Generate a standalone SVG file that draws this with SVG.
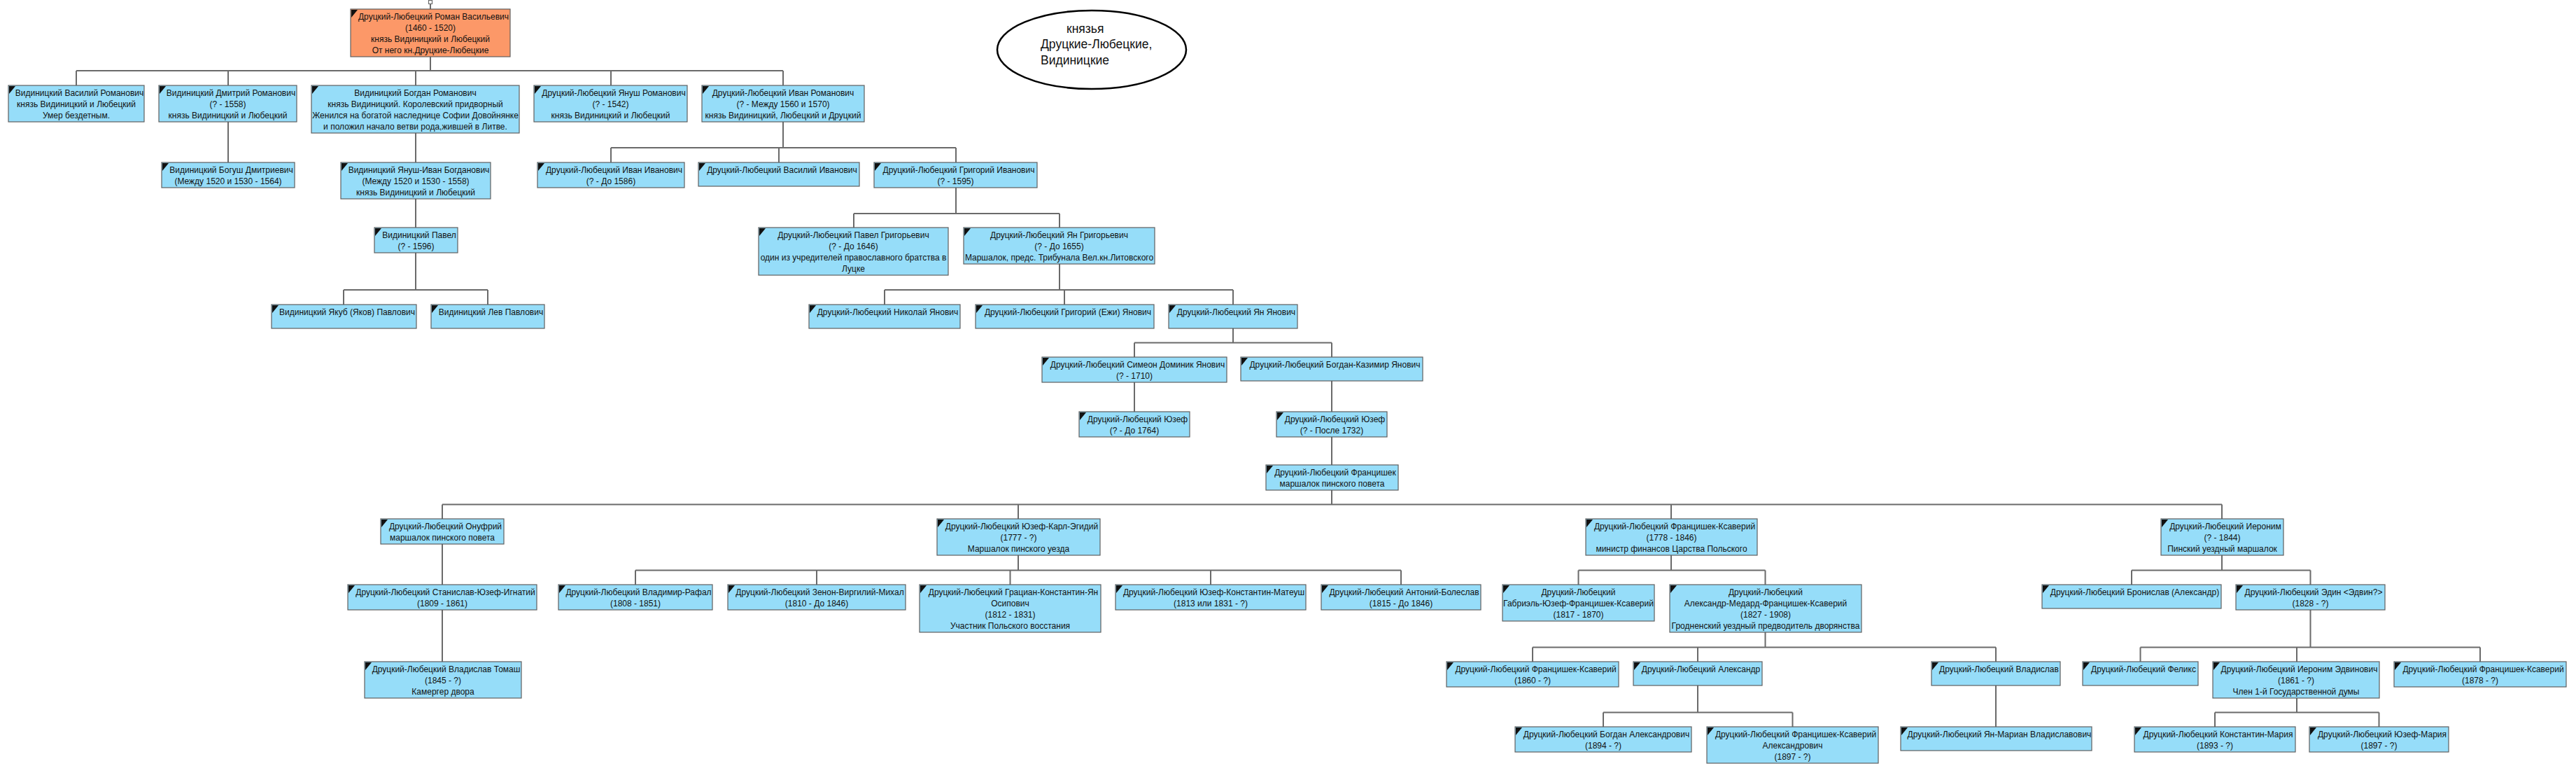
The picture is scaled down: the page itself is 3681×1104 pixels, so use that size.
<svg xmlns="http://www.w3.org/2000/svg" xmlns:xlink="http://www.w3.org/1999/xlink" width="3681" height="1104" viewBox="0 0 3681 1104">
<style>
.n{fill:#96DDF9;stroke:#5f5f5f;stroke-width:1.2}
.r{fill:#FC9868;stroke:#5f5f5f;stroke-width:1.2}
.t{font-family:"Liberation Sans",Arial,sans-serif;font-size:12px;fill:#111;text-anchor:middle}
.c{fill:none;stroke:#6a6a6a;stroke-width:2}
.e{font-family:"Liberation Sans",Arial,sans-serif;font-size:17.5px;fill:#111}
</style>
<defs>
<path id="ic" d="M1 1H10L1 12Z" fill="#111"/>
</defs>
<rect x="0" y="0" width="3681" height="1104" fill="#fff"/>

<g id="connectors">
<rect x="612.5" y="0.5" width="5" height="5" fill="#fff" stroke="#6a6a6a" stroke-width="1.2"/>
<path class="c" d="M615 5.5V13 M615 81V101 M109 101H1119 M109 101V122 M326 101V122 M594 101V122 M873 101V122 M1119 101V122
M326 174V232 M594 190V232
M1119 174V211 M873 211H1366 M873 211V232 M1113 211V232 M1366 211V232
M594 284V325
M1366 268V305 M1220 305H1514 M1220 305V325 M1514 305V325
M594 361V414 M491 414H697 M491 414V435 M697 414V435
M1514 377V414 M1264 414H1762 M1264 414V435 M1521 414V435 M1762 414V435
M1762 469V489.5 M1621 489.5H1903 M1621 489.5V510 M1903 489.5V510
M1621 546V588 M1903 544V588 M1903 624V664
M1903 700V720.5 M632 720.5H3175 M632 720.5V741 M1455 720.5V741 M2388 720.5V741 M3175 720.5V741
M632 777V835
M1455 793V814.5 M908 814.5H2002 M908 814.5V835 M1167 814.5V835 M1443.5 814.5V835 M1730 814.5V835 M2002 814.5V835
M2388 793V814.5 M2255.5 814.5H2522.5 M2255.5 814.5V835 M2522.5 814.5V835
M3175 793V814.5 M3046 814.5H3301.5 M3046 814.5V835 M3301.5 814.5V835
M632 871V945
M2522.5 903V924.5 M2190 924.5H2852 M2190 924.5V945 M2426 924.5V945 M2852 924.5V945
M3301.5 871V924.5 M3058.5 924.5H3544 M3058.5 924.5V945 M3282 924.5V945 M3544 924.5V945
M2426 979V1017.5 M2291 1017.5H2561.5 M2291 1017.5V1038 M2561.5 1017.5V1038
M2852 979V1038
M3282 997V1017.5 M3165 1017.5H3399.5 M3165 1017.5V1038 M3399.5 1017.5V1038"/>
</g>

<g id="legend">
<ellipse cx="1560" cy="71" rx="135" ry="56" fill="#fff" stroke="#000" stroke-width="2.5"/>
<text class="e" x="1524" y="47">князья</text>
<text class="e" x="1487" y="69">Друцкие-Любецкие,</text>
<text class="e" x="1487" y="92">Видиницкие</text>
</g>

<g id="r0"><rect class="r" x="501" y="13" width="228" height="68"/><use href="#ic" x="501" y="13"/>
<text class="t"><tspan x="619.5" y="28">Друцкий-Любецкий Роман Васильевич</tspan><tspan x="615" y="44">(1460 - 1520)</tspan><tspan x="615" y="60">князь Видиницкий и Любецкий</tspan><tspan x="615" y="76">От него кн.Друцкие-Любецкие</tspan></text></g>

<g id="n1"><rect class="n" x="12" y="122" width="194" height="52"/><use href="#ic" x="12" y="122"/>
<text class="t"><tspan x="113.5" y="137">Видиницкий Василий Романович</tspan><tspan x="109" y="153">князь Видиницкий и Любецкий</tspan><tspan x="109" y="169">Умер бездетным.</tspan></text></g>
<g id="n2"><rect class="n" x="227" y="122" width="197" height="52"/><use href="#ic" x="227" y="122"/>
<text class="t"><tspan x="330" y="137">Видиницкий Дмитрий Романович</tspan><tspan x="325.5" y="153">(? - 1558)</tspan><tspan x="325.5" y="169">князь Видиницкий и Любецкий</tspan></text></g>
<g id="n3"><rect class="n" x="445" y="122" width="297" height="68"/><use href="#ic" x="445" y="122"/>
<text class="t"><tspan x="593.5" y="137">Видиницкий Богдан Романович</tspan><tspan x="593.5" y="153">князь Видиницкий. Королевский придворный</tspan><tspan x="593.5" y="169">Женился на богатой наследнице Софии Довойнянке</tspan><tspan x="593.5" y="185">и положил начало ветви рода,жившей в Литве.</tspan></text></g>
<g id="n4"><rect class="n" x="763" y="122" width="219" height="52"/><use href="#ic" x="763" y="122"/>
<text class="t"><tspan x="877" y="137">Друцкий-Любецкий Януш Романович</tspan><tspan x="872.5" y="153">(? - 1542)</tspan><tspan x="872.5" y="169">князь Видиницкий и Любецкий</tspan></text></g>
<g id="n5"><rect class="n" x="1003" y="122" width="232" height="52"/><use href="#ic" x="1003" y="122"/>
<text class="t"><tspan x="1119" y="137">Друцкий-Любецкий Иван Романович</tspan><tspan x="1119" y="153">(? - Между 1560 и 1570)</tspan><tspan x="1119" y="169">князь Видиницкий, Любецкий и Друцкий</tspan></text></g>

<g id="n6"><rect class="n" x="231" y="232" width="190" height="36"/><use href="#ic" x="231" y="232"/>
<text class="t"><tspan x="330.5" y="247">Видиницкий Богуш Дмитриевич</tspan><tspan x="326" y="263">(Между 1520 и 1530 - 1564)</tspan></text></g>
<g id="n7"><rect class="n" x="487" y="232" width="214" height="52"/><use href="#ic" x="487" y="232"/>
<text class="t"><tspan x="598.5" y="247">Видиницкий Януш-Иван Богданович</tspan><tspan x="594" y="263">(Между 1520 и 1530 - 1558)</tspan><tspan x="594" y="279">князь Видиницкий и Любецкий</tspan></text></g>
<g id="n8"><rect class="n" x="768" y="232" width="210" height="36"/><use href="#ic" x="768" y="232"/>
<text class="t"><tspan x="877.5" y="247">Друцкий-Любецкий Иван Иванович</tspan><tspan x="873" y="263">(? - До 1586)</tspan></text></g>
<g id="n9"><rect class="n" x="998" y="232" width="230" height="34"/><use href="#ic" x="998" y="232"/>
<text class="t"><tspan x="1117.5" y="247">Друцкий-Любецкий Василий Иванович</tspan></text></g>
<g id="n10"><rect class="n" x="1249" y="232" width="233" height="36"/><use href="#ic" x="1249" y="232"/>
<text class="t"><tspan x="1370" y="247">Друцкий-Любецкий Григорий Иванович</tspan><tspan x="1365.5" y="263">(? - 1595)</tspan></text></g>

<g id="n11"><rect class="n" x="535" y="325" width="119" height="36"/><use href="#ic" x="535" y="325"/>
<text class="t"><tspan x="599" y="340">Видиницкий Павел</tspan><tspan x="594.5" y="356">(? - 1596)</tspan></text></g>
<g id="n12"><rect class="n" x="1084" y="325" width="271" height="68"/><use href="#ic" x="1084" y="325"/>
<text class="t"><tspan x="1219.5" y="340">Друцкий-Любецкий Павел Григорьевич</tspan><tspan x="1219.5" y="356">(? - До 1646)</tspan><tspan x="1219.5" y="372">один из учредителей православного братства в</tspan><tspan x="1219.5" y="388">Луцке</tspan></text></g>
<g id="n13"><rect class="n" x="1377" y="325" width="273" height="52"/><use href="#ic" x="1377" y="325"/>
<text class="t"><tspan x="1513.5" y="340">Друцкий-Любецкий Ян Григорьевич</tspan><tspan x="1513.5" y="356">(? - До 1655)</tspan><tspan x="1513.5" y="372">Маршалок, предс. Трибунала Вел.кн.Литовского</tspan></text></g>

<g id="n14"><rect class="n" x="388" y="435" width="207" height="34"/><use href="#ic" x="388" y="435"/>
<text class="t"><tspan x="496" y="450">Видиницкий Якуб (Яков) Павлович</tspan></text></g>
<g id="n15"><rect class="n" x="616" y="435" width="162" height="34"/><use href="#ic" x="616" y="435"/>
<text class="t"><tspan x="701.5" y="450">Видиницкий Лев Павлович</tspan></text></g>
<g id="n16"><rect class="n" x="1156" y="435" width="216" height="34"/><use href="#ic" x="1156" y="435"/>
<text class="t"><tspan x="1268.5" y="450">Друцкий-Любецкий Николай Янович</tspan></text></g>
<g id="n17"><rect class="n" x="1394" y="435" width="255" height="34"/><use href="#ic" x="1394" y="435"/>
<text class="t"><tspan x="1526" y="450">Друцкий-Любецкий Григорий (Ежи) Янович</tspan></text></g>
<g id="n18"><rect class="n" x="1670" y="435" width="184" height="34"/><use href="#ic" x="1670" y="435"/>
<text class="t"><tspan x="1766.5" y="450">Друцкий-Любецкий Ян Янович</tspan></text></g>

<g id="n19"><rect class="n" x="1489" y="510" width="264" height="36"/><use href="#ic" x="1489" y="510"/>
<text class="t"><tspan x="1625.5" y="525">Друцкий-Любецкий Симеон Доминик Янович</tspan><tspan x="1621" y="541">(? - 1710)</tspan></text></g>
<g id="n20"><rect class="n" x="1773" y="510" width="260" height="34"/><use href="#ic" x="1773" y="510"/>
<text class="t"><tspan x="1907.5" y="525">Друцкий-Любецкий Богдан-Казимир Янович</tspan></text></g>

<g id="n21"><rect class="n" x="1542" y="588" width="158" height="36"/><use href="#ic" x="1542" y="588"/>
<text class="t"><tspan x="1625.5" y="603">Друцкий-Любецкий Юзеф</tspan><tspan x="1621" y="619">(? - До 1764)</tspan></text></g>
<g id="n22"><rect class="n" x="1824" y="588" width="158" height="36"/><use href="#ic" x="1824" y="588"/>
<text class="t"><tspan x="1907.5" y="603">Друцкий-Любецкий Юзеф</tspan><tspan x="1903" y="619">(? - После 1732)</tspan></text></g>

<g id="n23"><rect class="n" x="1809" y="664" width="189" height="36"/><use href="#ic" x="1809" y="664"/>
<text class="t"><tspan x="1908" y="679">Друцкий-Любецкий Францишек</tspan><tspan x="1903.5" y="695">маршалок пинского повета</tspan></text></g>

<g id="n24"><rect class="n" x="544" y="741" width="176" height="36"/><use href="#ic" x="544" y="741"/>
<text class="t"><tspan x="636.5" y="756">Друцкий-Любецкий Онуфрий</tspan><tspan x="632" y="772">маршалок пинского повета</tspan></text></g>
<g id="n25"><rect class="n" x="1339" y="741" width="233" height="52"/><use href="#ic" x="1339" y="741"/>
<text class="t"><tspan x="1460" y="756">Друцкий-Любецкий Юзеф-Карл-Эгидий</tspan><tspan x="1455.5" y="772">(1777 - ?)</tspan><tspan x="1455.5" y="788">Маршалок пинского уезда</tspan></text></g>
<g id="n26"><rect class="n" x="2266" y="741" width="245" height="52"/><use href="#ic" x="2266" y="741"/>
<text class="t"><tspan x="2393" y="756">Друцкий-Любецкий Францишек-Ксаверий</tspan><tspan x="2388.5" y="772">(1778 - 1846)</tspan><tspan x="2388.5" y="788">министр финансов Царства Польского</tspan></text></g>
<g id="n27"><rect class="n" x="3088" y="741" width="175" height="52"/><use href="#ic" x="3088" y="741"/>
<text class="t"><tspan x="3180" y="756">Друцкий-Любецкий Иероним</tspan><tspan x="3175.5" y="772">(? - 1844)</tspan><tspan x="3175.5" y="788">Пинский уездный маршалок</tspan></text></g>

<g id="n28"><rect class="n" x="497" y="835" width="270" height="36"/><use href="#ic" x="497" y="835"/>
<text class="t"><tspan x="636.5" y="850">Друцкий-Любецкий Станислав-Юзеф-Игнатий</tspan><tspan x="632" y="866">(1809 - 1861)</tspan></text></g>
<g id="n29"><rect class="n" x="798" y="835" width="220" height="36"/><use href="#ic" x="798" y="835"/>
<text class="t"><tspan x="912.5" y="850">Друцкий-Любецкий Владимир-Рафал</tspan><tspan x="908" y="866">(1808 - 1851)</tspan></text></g>
<g id="n30"><rect class="n" x="1040" y="835" width="254" height="36"/><use href="#ic" x="1040" y="835"/>
<text class="t"><tspan x="1171.5" y="850">Друцкий-Любецкий Зенон-Виргилий-Михал</tspan><tspan x="1167" y="866">(1810 - До 1846)</tspan></text></g>
<g id="n31"><rect class="n" x="1314" y="835" width="259" height="68"/><use href="#ic" x="1314" y="835"/>
<text class="t"><tspan x="1448" y="850">Друцкий-Любецкий Грациан-Константин-Ян</tspan><tspan x="1443.5" y="866">Осипович</tspan><tspan x="1443.5" y="882">(1812 - 1831)</tspan><tspan x="1443.5" y="898">Участник Польского восстания</tspan></text></g>
<g id="n32"><rect class="n" x="1594" y="835" width="272" height="36"/><use href="#ic" x="1594" y="835"/>
<text class="t"><tspan x="1734.5" y="850">Друцкий-Любецкий Юзеф-Константин-Матеуш</tspan><tspan x="1730" y="866">(1813 или 1831 - ?)</tspan></text></g>
<g id="n33"><rect class="n" x="1888" y="835" width="228" height="36"/><use href="#ic" x="1888" y="835"/>
<text class="t"><tspan x="2006.5" y="850">Друцкий-Любецкий Антоний-Болеслав</tspan><tspan x="2002" y="866">(1815 - До 1846)</tspan></text></g>
<g id="n34"><rect class="n" x="2147" y="835" width="217" height="52"/><use href="#ic" x="2147" y="835"/>
<text class="t"><tspan x="2255.5" y="850">Друцкий-Любецкий</tspan><tspan x="2255.5" y="866">Габриэль-Юзеф-Францишек-Ксаверий</tspan><tspan x="2255.5" y="882">(1817 - 1870)</tspan></text></g>
<g id="n35"><rect class="n" x="2386" y="835" width="274" height="68"/><use href="#ic" x="2386" y="835"/>
<text class="t"><tspan x="2523" y="850">Друцкий-Любецкий</tspan><tspan x="2523" y="866">Александр-Медард-Францишек-Ксаверий</tspan><tspan x="2523" y="882">(1827 - 1908)</tspan><tspan x="2523" y="898">Гродненский уездный предводитель дворянства</tspan></text></g>
<g id="n36"><rect class="n" x="2918" y="835" width="256" height="34"/><use href="#ic" x="2918" y="835"/>
<text class="t"><tspan x="3050.5" y="850">Друцкий-Любецкий Бронислав (Александр)</tspan></text></g>
<g id="n37"><rect class="n" x="3195" y="835" width="213" height="36"/><use href="#ic" x="3195" y="835"/>
<text class="t"><tspan x="3306" y="850">Друцкий-Любецкий Эдин &lt;Эдвин?&gt;</tspan><tspan x="3301.5" y="866">(1828 - ?)</tspan></text></g>

<g id="n38"><rect class="n" x="521" y="945" width="224" height="52"/><use href="#ic" x="521" y="945"/>
<text class="t"><tspan x="637.5" y="960">Друцкий-Любецкий Владислав Томаш</tspan><tspan x="633" y="976">(1845 - ?)</tspan><tspan x="633" y="992">Камергер двора</tspan></text></g>
<g id="n39"><rect class="n" x="2067" y="945" width="246" height="36"/><use href="#ic" x="2067" y="945"/>
<text class="t"><tspan x="2194.5" y="960">Друцкий-Любецкий Францишек-Ксаверий</tspan><tspan x="2190" y="976">(1860 - ?)</tspan></text></g>
<g id="n40"><rect class="n" x="2334" y="945" width="184" height="34"/><use href="#ic" x="2334" y="945"/>
<text class="t"><tspan x="2430.5" y="960">Друцкий-Любецкий Александр</tspan></text></g>
<g id="n41"><rect class="n" x="2760" y="945" width="184" height="34"/><use href="#ic" x="2760" y="945"/>
<text class="t"><tspan x="2856.5" y="960">Друцкий-Любецкий Владислав</tspan></text></g>
<g id="n42"><rect class="n" x="2976" y="945" width="165" height="34"/><use href="#ic" x="2976" y="945"/>
<text class="t"><tspan x="3063" y="960">Друцкий-Любецкий Феликс</tspan></text></g>
<g id="n43"><rect class="n" x="3162" y="945" width="238" height="52"/><use href="#ic" x="3162" y="945"/>
<text class="t"><tspan x="3285.5" y="960">Друцкий-Любецкий Иероним Эдвинович</tspan><tspan x="3281" y="976">(1861 - ?)</tspan><tspan x="3281" y="992">Член 1-й Государственной думы</tspan></text></g>
<g id="n44"><rect class="n" x="3421" y="945" width="246" height="36"/><use href="#ic" x="3421" y="945"/>
<text class="t"><tspan x="3548.5" y="960">Друцкий-Любецкий Францишек-Ксаверий</tspan><tspan x="3544" y="976">(1878 - ?)</tspan></text></g>

<g id="n45"><rect class="n" x="2165" y="1038" width="252" height="36"/><use href="#ic" x="2165" y="1038"/>
<text class="t"><tspan x="2295.5" y="1053">Друцкий-Любецкий Богдан Александрович</tspan><tspan x="2291" y="1069">(1894 - ?)</tspan></text></g>
<g id="n46"><rect class="n" x="2439" y="1038" width="245" height="52"/><use href="#ic" x="2439" y="1038"/>
<text class="t"><tspan x="2566" y="1053">Друцкий-Любецкий Францишек-Ксаверий</tspan><tspan x="2561.5" y="1069">Александрович</tspan><tspan x="2561.5" y="1085">(1897 - ?)</tspan></text></g>
<g id="n47"><rect class="n" x="2716" y="1038" width="273" height="34"/><use href="#ic" x="2716" y="1038"/>
<text class="t"><tspan x="2857" y="1053">Друцкий-Любецкий Ян-Мариан Владиславович</tspan></text></g>
<g id="n48"><rect class="n" x="3050" y="1038" width="230" height="36"/><use href="#ic" x="3050" y="1038"/>
<text class="t"><tspan x="3169.5" y="1053">Друцкий-Любецкий Константин-Мария</tspan><tspan x="3165" y="1069">(1893 - ?)</tspan></text></g>
<g id="n49"><rect class="n" x="3300" y="1038" width="199" height="36"/><use href="#ic" x="3300" y="1038"/>
<text class="t"><tspan x="3404" y="1053">Друцкий-Любецкий Юзеф-Мария</tspan><tspan x="3399.5" y="1069">(1897 - ?)</tspan></text></g>
</svg>
